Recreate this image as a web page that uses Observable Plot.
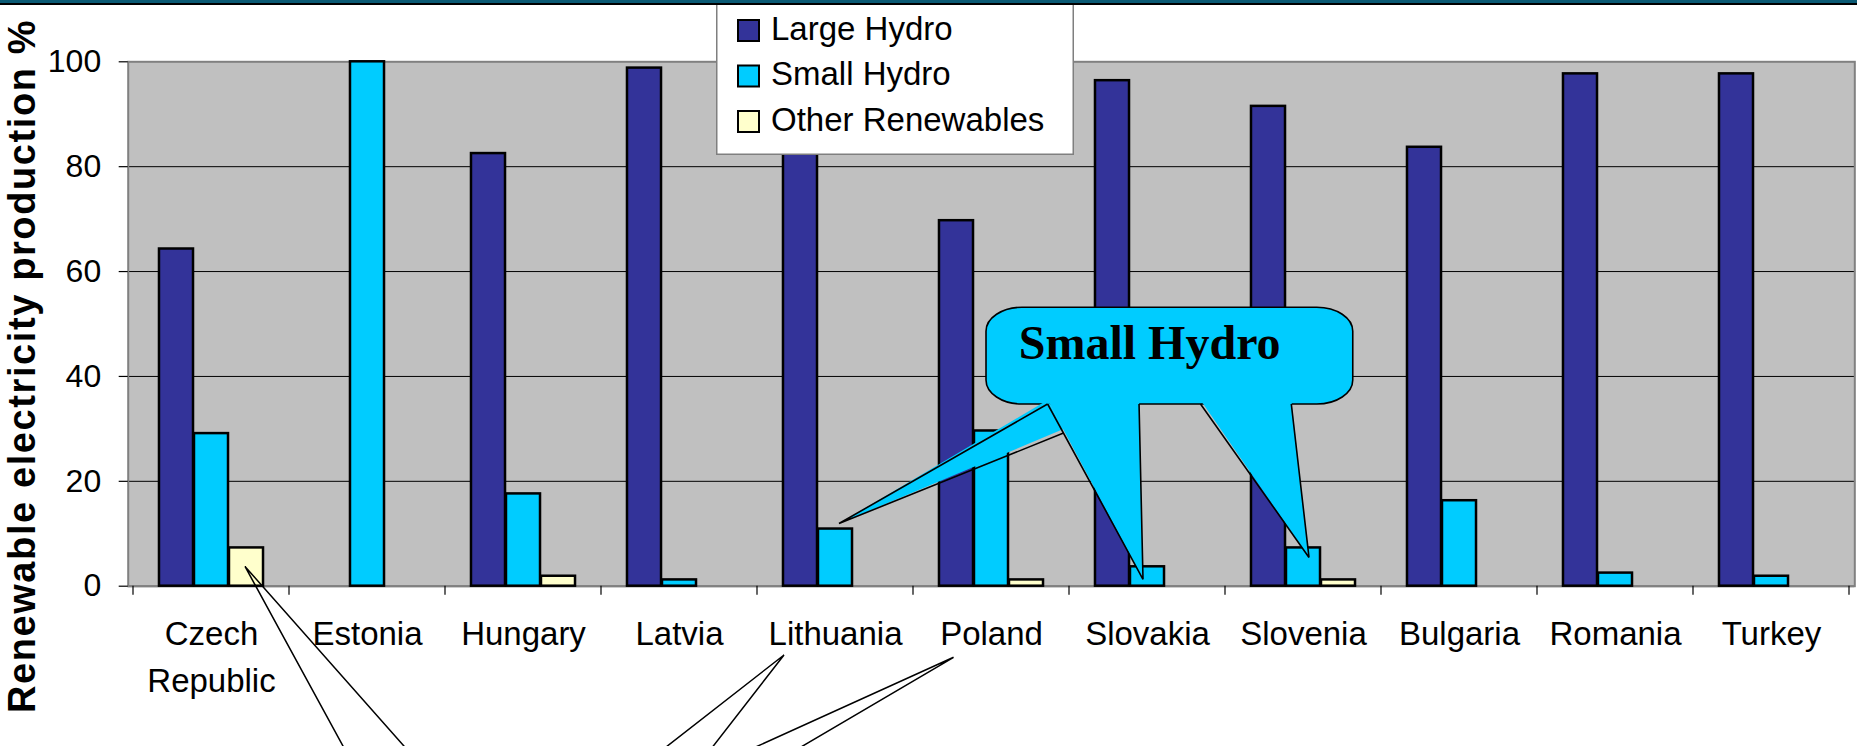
<!DOCTYPE html>
<html>
<head>
<meta charset="utf-8">
<script src="https://cdn.jsdelivr.net/npm/d3@7"></script>
<script src="https://cdn.jsdelivr.net/npm/@observablehq/plot@0.6"></script>
<style>
  html, body { margin: 0; padding: 0; background: #fff; }
  #wrap { position: relative; width: 1857px; height: 746px; overflow: hidden; font-family: "Liberation Sans", Arial, sans-serif; }
  #topbar { position: absolute; left: 0; top: 0; width: 1857px; height: 3px; background: #0b5a74; border-bottom: 2px solid #000; z-index: 4; }
  #legend { position: absolute; left: 716px; top: 2px; z-index: 3; }
  #ytitle { position: absolute; left: 22px; top: 366px; transform: translate(-50%, -50%) rotate(-90deg); white-space: nowrap;
            font: bold 38px "Liberation Sans", Arial, sans-serif; letter-spacing: 1.6px; color: #000; z-index: 2; }
  #chart { position: absolute; left: 0; top: 0; }
</style>
</head>
<body>
<div id="wrap">
  <div id="chart"></div>
  <div id="topbar"></div>
  <div id="ytitle"></div>
  <div id="legend"></div>
</div>
<script>
// ---------- data ----------
const countries = ["Czech Republic", "Estonia", "Hungary", "Latvia", "Lithuania", "Poland",
                   "Slovakia", "Slovenia", "Bulgaria", "Romania", "Turkey"];
const tickLabels = ["Czech\nRepublic", "Estonia", "Hungary", "Latvia", "Lithuania", "Poland",
                    "Slovakia", "Slovenia", "Bulgaria", "Romania", "Turkey"];
const series = ["Large Hydro", "Small Hydro", "Other Renewables"];
const largeHydro      = [64.3, 0, 82.5, 98.8, 89.0, 69.7, 96.4, 91.5, 83.7, 97.7, 97.7];
const smallHydro      = [29.1, 100, 17.6, 1.2, 10.9, 29.6, 3.7, 7.3, 16.3, 2.5, 1.9];
const otherRenewables = [7.3, 0, 1.9, 0, 0, 1.2, 0, 1.2, 0, 0, 0];
const yTicks = [0, 20, 40, 60, 80, 100];
const yTitle = "Renewable electricity production %";
const calloutLabel = "Small Hydro";

// ---------- style ----------
const seriesColors = ["#333399", "#00CCFF", "#FFFFCC"];
const W = 1857, H = 746;
const mL = 127.7, mR = 2.7, mT = 61.3, mB = 160.3;
const barW = 35;

const valuesBySeries = [largeHydro, smallHydro, otherRenewables];
const rows = [];
series.forEach((s, si) => countries.forEach((c, ci) => {
  rows.push({country: c, series: s, value: valuesBySeries[si][ci]});
}));

const bandW = (W - mL - mR) / countries.length;
const inset = (bandW - barW) / 2;
const plotW = W - mL - mR;

const barMarks = series.map((s, si) => Plot.barY(
  rows.filter(d => d.series === s && d.value > 0),
  {x: "country", y: "value", fill: "series", stroke: "#000", strokeWidth: 2.5,
   insetLeft: inset, insetRight: inset, dx: (si - 1) * barW}
));

const svg = Plot.plot({
  width: W, height: H,
  marginTop: mT, marginBottom: mB, marginLeft: mL, marginRight: mR,
  style: {fontFamily: '"Liberation Sans", Arial, sans-serif', fontSize: "32px", color: "#000",
          background: "transparent", overflow: "visible"},
  x: {domain: countries, padding: 0, axis: null},
  y: {domain: [0, 100], axis: null},
  color: {domain: series, range: seriesColors},
  marks: [
    Plot.frame({fill: "#C0C0C0"}),
    Plot.ruleY(yTicks.filter(t => t > 0 && t < 100), {stroke: "#000", strokeWidth: 1}),
    Plot.frame({stroke: "#808080", strokeWidth: 2}),
    Plot.ruleY([0], {stroke: "#808080", strokeWidth: 2}),
    // y axis ticks and labels
    Plot.ruleY(yTicks, {stroke: "#000", strokeWidth: 1.2, insetLeft: -9, insetRight: plotW}),
    Plot.text(yTicks, {y: d => d, text: d => String(d), frameAnchor: "left", dx: -27,
      textAnchor: "end", fontSize: 32, fill: "#000"}),
    ...barMarks,
    Plot.text(countries, {x: d => d, text: (d, i) => tickLabels[i], frameAnchor: "bottom",
      lineAnchor: "top", dy: 25, lineHeight: 1.43, fontSize: 33, fill: "#000"})
  ]
});
document.getElementById("chart").appendChild(svg);

// ---------- scales for annotations ----------
const xs = svg.scale("x"), ys = svg.scale("y");
let xBand, yLin;
if (typeof xs.apply === "function") { xBand = v => xs.apply(v); }
else {
  const b = d3.scaleBand(xs.domain, xs.range).paddingInner(xs.paddingInner ?? 0)
    .paddingOuter(xs.paddingOuter ?? 0).align(xs.align ?? 0.5);
  xBand = v => b(v);
}
const bw = xs.bandwidth ?? bandW;
if (typeof ys.apply === "function") { yLin = v => ys.apply(v); }
else { const l = d3.scaleLinear(ys.domain, ys.range); yLin = v => l(v); }

const xAt = (c, frac) => xBand(c) + frac * bw;
const barCenter = (c, s) => xBand(c) + bw / 2 + (series.indexOf(s) - 1) * barW;
const barTop = (c, s) => yLin(valuesBySeries[series.indexOf(s)][countries.indexOf(c)]);

const g = d3.select(svg).append("g").attr("text-anchor", "start");

// category boundary ticks
const y0 = yLin(0);
for (let i = 0; i <= countries.length; i++) {
  const x = i < countries.length ? xBand(countries[i]) : xBand(countries[countries.length - 1]) + bw;
  g.append("line").attr("x1", x).attr("x2", x).attr("y1", y0).attr("y2", y0 + 9)
    .attr("stroke", "#000").attr("stroke-width", 1.2);
}

// ---------- "Small Hydro" callout ----------
const box = {x1: xAt("Poland", 0.468), x2: xAt("Slovenia", 0.819), y1: yLin(53.1), y2: yLin(34.65)};
const tails = [
  {base: [[xAt("Poland", 0.863), box.y2], [xAt("Poland", 0.965), yLin(29.1)]],
   tip: [barCenter("Lithuania", "Small Hydro") + 4, barTop("Lithuania", "Small Hydro") - 5]},
  {base: [[xAt("Slovakia", -0.137), box.y2], [xAt("Slovakia", 0.449), box.y2]],
   tip: [barCenter("Slovakia", "Small Hydro") - 4, barTop("Slovakia", "Small Hydro") + 13]},
  {base: [[xAt("Slovenia", -0.157), box.y2], [xAt("Slovenia", 0.425), box.y2]],
   tip: [barCenter("Slovenia", "Small Hydro") + 6, barTop("Slovenia", "Small Hydro") + 10]}
];
const cy = "#00CCFF";
g.append("rect").attr("x", box.x1).attr("y", box.y1).attr("width", box.x2 - box.x1).attr("height", box.y2 - box.y1)
  .attr("rx", 36).attr("ry", 24).attr("fill", cy).attr("stroke", "#000").attr("stroke-width", 1.6);
tails.forEach(t => {
  const pts = [[t.base[0][0], t.base[0][1] - 4], t.tip, [t.base[1][0], t.base[1][1] - 4]];
  g.append("polygon").attr("points", pts.map(p => p.join(",")).join(" ")).attr("fill", cy);
});
tails.forEach(t => {
  const pts = [t.base[0], t.tip, t.base[1]];
  g.append("polyline").attr("points", pts.map(p => p.join(",")).join(" "))
    .attr("fill", "none").attr("stroke", "#000").attr("stroke-width", 1.6).attr("stroke-linejoin", "miter");
});
g.append("text").attr("x", xAt("Poland", 0.678)).attr("y", yLin(43.2)).attr("text-anchor", "start")
  .attr("font-family", '"Liberation Serif", "Times New Roman", serif').attr("font-weight", "bold")
  .attr("font-size", 48).attr("fill", "#000").text(calloutLabel);

// ---------- tails of a callout below the picture ----------
const lowTails = [
  {tip: [barCenter("Czech Republic", "Other Renewables") - 1, barTop("Czech Republic", "Other Renewables") + 19],
   ends: [xAt("Czech Republic", 1.353), xAt("Czech Republic", 1.748)]},
  {tip: [xAt("Lithuania", 0.173), y0 + 69.3], ends: [xAt("Lithuania", -0.591), xAt("Lithuania", -0.29)]},
  {tip: [xAt("Poland", 0.26), y0 + 71.6], ends: [xAt("Poland", -1.023), xAt("Poland", -0.729)]}
];
lowTails.forEach(t => {
  const pts = [[t.ends[0], H + 2], t.tip, [t.ends[1], H + 2]];
  g.append("polyline").attr("points", pts.map(p => p.join(",")).join(" "))
    .attr("fill", "none").attr("stroke", "#000").attr("stroke-width", 1.5);
});

// ---------- y title ----------
document.getElementById("ytitle").textContent = yTitle;

// ---------- legend ----------
const lg = d3.select("#legend").append("svg").attr("width", 358).attr("height", 153);
lg.append("rect").attr("x", 0.75).attr("y", 0.75).attr("width", 356.5).attr("height", 151.5)
  .attr("fill", "#fff").attr("stroke", "#7f7f7f").attr("stroke-width", 1.5);
const cs = svg.scale("color");
(cs.domain || series).forEach((s, i) => {
  lg.append("rect").attr("x", 22).attr("y", 18 + i * 45.5).attr("width", 21).attr("height", 21)
    .attr("fill", cs.range ? cs.range[i] : seriesColors[i]).attr("stroke", "#000").attr("stroke-width", 2);
  lg.append("text").attr("x", 55).attr("y", 37.5 + i * 45.5)
    .attr("font-family", '"Liberation Sans", Arial, sans-serif').attr("font-size", 33).attr("fill", "#000").text(s);
});
</script>
</body>
</html>
